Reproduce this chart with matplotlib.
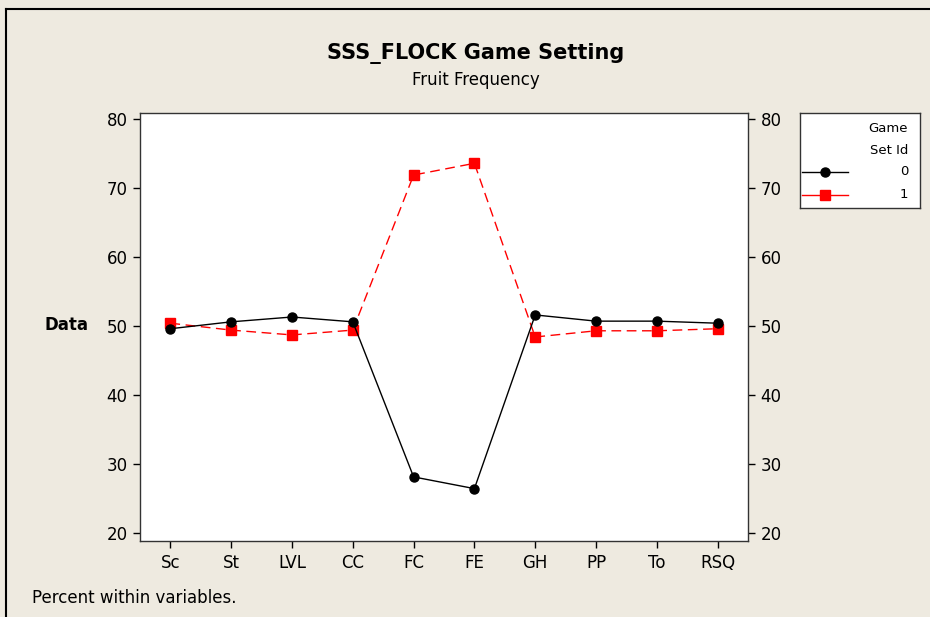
import numpy as np
import matplotlib
matplotlib.use('Agg')
import matplotlib.pyplot as plt
from matplotlib.lines import Line2D

plt.rcParams['font.family'] = 'DejaVu Sans'

variables = ['Sc', 'St', 'LVL', 'CC', 'FC', 'FE', 'GH', 'PP', 'To', 'RSQ']
set0 = [49.6, 50.6, 51.3, 50.6, 28.1, 26.4, 51.6, 50.7, 50.7, 50.4]
set1 = [50.4, 49.4, 48.7, 49.4, 71.9, 73.6, 48.4, 49.3, 49.3, 49.6]
set_ids = ['0', '1']
yticks = [20, 30, 40, 50, 60, 70, 80]

bg = '#eeeae0'
style0 = dict(color='black', linestyle='-', linewidth=1.0, marker='o', markersize=6.5)
style1 = dict(color='#ff0000', linestyle=(0, (7, 4)), linewidth=1.0, marker='s', markersize=7)

fig = plt.figure(figsize=(9.3, 6.17), dpi=100, facecolor=bg)

# frame lines (top and left)
fig.add_artist(Line2D([6 / 930, 1], [1 - 9 / 617] * 2, color='black', lw=1.5))
fig.add_artist(Line2D([6 / 930] * 2, [0, 1 - 9 / 617], color='black', lw=1.5))

ax = fig.add_axes([140 / 930, 1 - 541 / 617, 608 / 930, 428 / 617])
ax.set_facecolor('white')
x = np.arange(len(variables))
ax.plot(x, set0, **style0, zorder=3)
ax.plot(x, set1, **style1, zorder=2)

ax.set_xlim(-0.5, len(variables) - 0.5)
ax.set_ylim(18.8, 80.9)
ax.set_xticks(x)
ax.set_xticklabels(variables)
ax.set_yticks(yticks)
ax.tick_params(axis='both', direction='out', length=5, width=1, labelsize=12,
               right=True, labelright=True, pad=4)
for s in ax.spines.values():
    s.set_linewidth(1.0)
    s.set_color('#333333')

fig.text(88 / 930, 1 - 325 / 617, 'Data', ha='right', va='center',
         fontsize=12, fontweight='bold')
fig.text(476 / 930, 1 - 53 / 617, 'SSS_FLOCK Game Setting', ha='center', va='center',
         fontsize=15, fontweight='bold')
fig.text(476 / 930, 1 - 80 / 617, 'Fruit Frequency', ha='center', va='center', fontsize=12)
fig.text(32 / 930, 1 - 598 / 617, 'Percent within variables.', ha='left', va='center', fontsize=12)

# legend box
lax = fig.add_axes([800 / 930, 1 - 208 / 617, 120 / 930, 95 / 617])
lax.set_xlim(0, 1)
lax.set_ylim(0, 1)
lax.set_xticks([])
lax.set_yticks([])
for s in lax.spines.values():
    s.set_linewidth(1.0)
    s.set_color('#333333')
lax.text(0.9, 0.84, 'Game', ha='right', va='center', fontsize=9.5)
lax.text(0.9, 0.61, 'Set Id', ha='right', va='center', fontsize=9.5)
for sid, style, yy in zip(set_ids, [style0, style1], [0.38, 0.14]):
    lax.add_line(Line2D([0.02, 0.4], [yy, yy], color=style['color'], linewidth=1.0))
    lax.add_line(Line2D([0.21], [yy], marker=style['marker'], color=style['color'],
                        markersize=style['markersize'], linestyle='none'))
    lax.text(0.9, yy, sid, ha='right', va='center', fontsize=9.5)

fig.savefig('out.png', dpi=100, facecolor=bg)
